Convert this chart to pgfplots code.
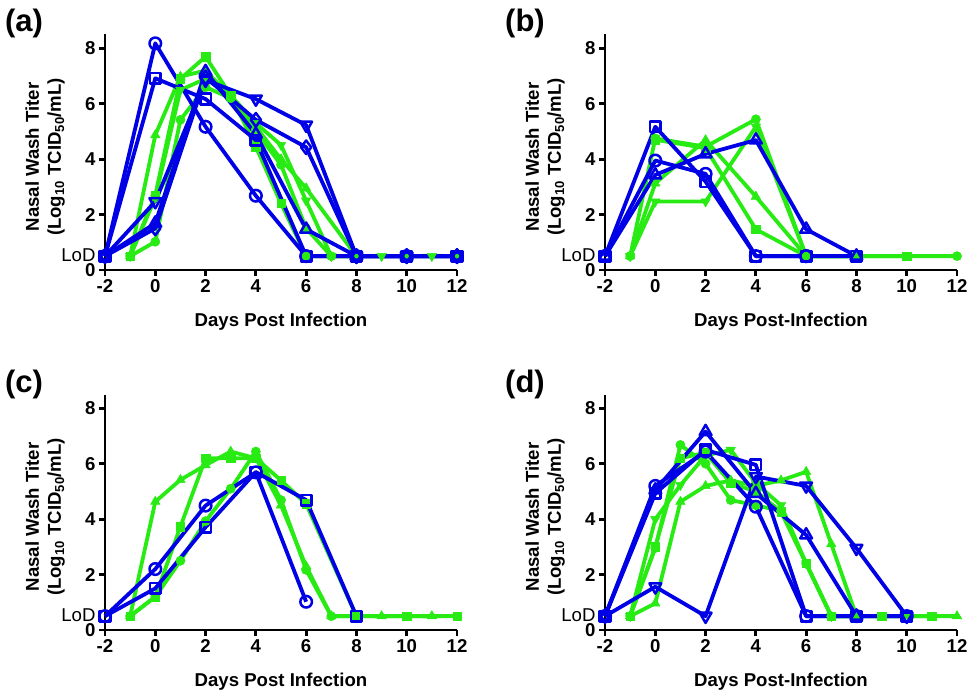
\documentclass[border=0pt]{standalone}
\usepackage{fontspec}
\setmainfont{Liberation Sans}
\usepackage{pgfplots}
\pgfplotsset{compat=1.18}

\definecolor{vblue}{RGB}{0,0,230}
\definecolor{vgreen}{RGB}{40,235,20}
\newcommand\fs{\fontsize{18.6}{22}\selectfont}

\pgfplotsset{
  titerax/.style={
    scale only axis, width=352pt, height=235.5pt,
    xmin=-2, xmax=12, ymin=0, ymax=8.5,
    axis lines=left, axis line style={-, line width=2.8pt, black},
    clip=false,
    xtick={-2,0,2,4,6,8,10,12}, xticklabels={-2,0,2,4,6,8,10,12},
    ytick={0,2,4,6,8}, yticklabels={0,2,4,6,8},
    tick align=outside, major tick length=6pt,
    tick style={line width=2.8pt, black},
    tick label style={font=\bfseries\fs},
    extra y ticks={0.5}, extra y tick labels={LoD},
    extra y tick style={major tick length=0pt, tick style={draw=none},
      yticklabel style={font=\mdseries\fs, xshift=-6pt, yshift=1pt}},
    ylabel={Nasal Wash Titer\\(Log\textsubscript{10} TCID\textsubscript{50}/mL)},
    ylabel style={font=\bfseries\fs, align=center, at={(axis description cs:-0.17,0.48)}, anchor=center},
    xlabel style={font=\bfseries\fs, at={(axis description cs:0.5,-0.242)}, anchor=base},
    every axis plot/.append style={line width=3.8pt, line join=round},
  },
  bS/.style={vblue, mark options={solid, fill=white, draw=vblue, line width=2.5pt}},
  bO/.style={bS, mark=o, mark size=5.8pt},
  bQ/.style={bS, mark=square, mark size=5.3pt},
  bT/.style={bS, mark=triangle, mark size=6.8pt},
  bV/.style={bS, mark=triangle, mark size=6.8pt, every mark/.append style={rotate=180}},
  bD/.style={bS, mark=diamond, mark size=6.8pt},
  gS/.style={vgreen, mark options={solid, fill=vgreen, draw=vgreen, line width=0.5pt}},
  gO/.style={gS, mark=*, mark size=4.6pt},
  gQ/.style={gS, mark=square*, mark size=4.2pt},
  gT/.style={gS, mark=triangle*, mark size=5.5pt},
  gV/.style={gS, mark=triangle*, mark size=5.5pt, every mark/.append style={rotate=180}},
}

\begin{document}
\begin{tikzpicture}
\useasboundingbox (0,0) rectangle (968pt,690pt);

% ---------------- (a) ----------------
\begin{axis}[titerax, at={(105pt,420pt)}, anchor=south west, xlabel={Days Post Infection}]
\addplot[gO] coordinates {(-1,0.5)(0,1.02)(1,5.42)(2,6.6)(3,6.2)(4,5.0)(5,3.8)(6,1.5)(7,0.5)(8,0.5)};
\addplot[gQ] coordinates {(-1,0.5)(0,2.7)(1,6.9)(2,7.7)(3,6.3)(4,4.45)(5,2.4)(6,0.5)(8,0.5)};
\addplot[gT] coordinates {(-1,0.5)(0,4.87)(1,6.98)(2,7.2)(3,6.26)(4,5.17)(5,4.0)(6,2.95)(8,0.5)};
\addplot[gV] coordinates {(-1,0.5)(0,2.6)(1,6.5)(2,6.9)(3,6.3)(4,5.3)(5,4.51)(6,2.5)(7,0.5)(8,0.5)(9,0.5)(10,0.5)(11,0.5)(12,0.5)};
\addplot[gQ] coordinates {(-1,0.5)};
\addplot[bD] coordinates {(-2,0.5)(0,1.5)(2,6.95)(4,5.42)(6,4.43)(8,0.5)(10,0.5)(12,0.5)};
\addplot[bV] coordinates {(-2,0.5)(0,2.47)(2,6.85)(4,6.17)(6,5.23)(8,0.5)(10,0.5)(12,0.5)};
\addplot[bT] coordinates {(-2,0.5)(0,1.69)(2,7.16)(4,4.9)(6,1.47)(8,0.5)(10,0.5)(12,0.5)};
\addplot[bQ] coordinates {(-2,0.5)(0,6.92)(2,6.17)(4,4.69)(6,0.5)(8,0.5)(10,0.5)(12,0.5)};
\addplot[bO] coordinates {(-2,0.5)(0,8.18)(2,5.17)(4,2.68)(6,0.5)(8,0.5)(10,0.5)};
\end{axis}

% ---------------- (b) ----------------
\begin{axis}[titerax, at={(605pt,420pt)}, anchor=south west, xlabel={Days Post-Infection}]
\addplot[gT] coordinates {(-1,0.5)(0,3.13)(2,4.69)(4,2.65)(6,0.5)(8,0.5)};
\addplot[gV] coordinates {(-1,0.5)(0,2.47)(2,2.47)(4,5.17)(6,0.5)(8,0.5)};
\addplot[gQ] coordinates {(0,4.7)(2,4.4)(4,1.47)(6,0.5)(8,0.5)(10,0.5)};
\addplot[gO] coordinates {(-1,0.5)(0,4.75)(2,4.45)(4,5.44)(6,0.5)(8,0.5)(12,0.5)};
\addplot[bT] coordinates {(-2,0.5)(0,3.43)(2,4.19)(4,4.69)(6,1.47)(8,0.5)};
\addplot[bO] coordinates {(-2,0.5)(0,3.95)(2,3.47)(4,0.5)(6,0.5)};
\addplot[bQ] coordinates {(-2,0.5)(0,5.17)(2,3.19)(4,0.5)(6,0.5)(8,0.5)};
\addplot[bO] coordinates {(6,0.5)};
\end{axis}

% ---------------- (c) ----------------
\begin{axis}[titerax, at={(105pt,60pt)}, anchor=south west, xlabel={Days Post Infection}]
\addplot[gO] coordinates {(-1,0.5)(0,1.2)(1,2.5)(2,3.93)(3,5.1)(4,6.44)(5,4.69)(6,2.17)(7,0.5)(8,0.5)};
\addplot[gQ] coordinates {(-1,0.5)(0,1.2)(1,3.73)(2,6.2)(3,6.2)(4,6.2)(5,5.4)(6,4.55)(8,0.5)(10,0.5)(12,0.5)};
\addplot[gT] coordinates {(-1,0.5)(0,4.63)(1,5.42)(2,5.95)(3,6.44)(4,6.2)(5,4.5)(6,2.3)(7,0.5)(9,0.5)(11,0.5)};
\addplot[bQ] coordinates {(-2,0.5)(0,1.5)(2,3.71)(4,5.7)(6,4.69)(8,0.5)};
\addplot[bO] coordinates {(-2,0.5)(0,2.2)(2,4.49)(4,5.69)(6,1.02)};
\end{axis}

% ---------------- (d) ----------------
\begin{axis}[titerax, at={(605pt,60pt)}, anchor=south west, xlabel={Days Post-Infection}]
\addplot[gO] coordinates {(-1,0.5)(0,2.96)(1,6.68)(2,6.0)(3,4.69)(4,4.5)(5,4.3)(6,2.4)(7,0.5)(8,0.5)};
\addplot[gV] coordinates {(-1,0.5)(0,4.0)(1,5.23)(2,6.3)(3,6.5)(4,5.3)(5,4.5)(6,2.4)(7,0.5)(8,0.5)};
\addplot[gT] coordinates {(-1,0.5)(0,0.96)(1,4.63)(2,5.2)(3,5.4)(4,5.2)(5,5.4)(6,5.71)(7,3.1)(8,0.5)(10,0.5)(12,0.5)};
\addplot[gQ] coordinates {(-1,0.5)(0,3.0)(1,6.2)(2,6.4)(3,5.3)(4,5.0)(5,4.27)(6,2.4)(7,0.5)(9,0.5)(11,0.5)};
\addplot[bV] coordinates {(-2,0.5)(0,1.56)(2,0.5)(4,5.54)(6,5.2)(8,2.95)(10,0.5)};
\addplot[bT] coordinates {(-2,0.5)(0,5.05)(2,7.16)(4,4.93)(6,3.43)(8,0.5)};
\addplot[bQ] coordinates {(-2,0.5)(0,4.93)(2,6.5)(4,5.96)(6,0.5)(8,0.5)(10,0.5)};
\addplot[bO] coordinates {(-2,0.5)(0,5.2)(2,6.44)(4,4.45)(6,0.5)(8,0.5)(10,0.5)};
\end{axis}

% panel letters
\node[font=\bfseries\fontsize{31}{33}\selectfont] at (24pt,667pt) {(a)};
\node[font=\bfseries\fontsize{31}{33}\selectfont] at (525pt,667pt) {(b)};
\node[font=\bfseries\fontsize{31}{33}\selectfont] at (24pt,306pt) {(c)};
\node[font=\bfseries\fontsize{31}{33}\selectfont] at (525pt,306pt) {(d)};
\end{tikzpicture}
\end{document}
